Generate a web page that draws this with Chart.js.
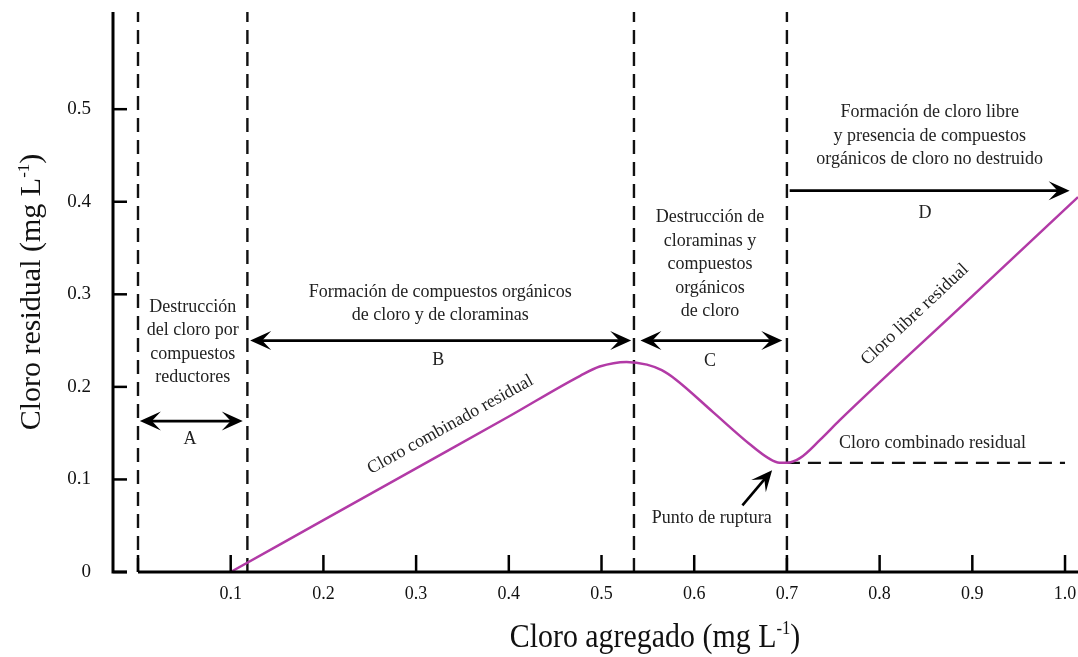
<!DOCTYPE html>
<html>
<head>
<meta charset="utf-8">
<script src="https://cdn.jsdelivr.net/npm/chart.js@4"></script>
<style>
html, body { margin: 0; padding: 0; background: #fff; }
</style>
</head>
<body>
<canvas id="breakpointChart" width="1078" height="657"></canvas>
<script>
// Curva de cloro residual frente a cloro agregado (mg/L)
var curveX = [0.1, 0.2, 0.3, 0.4, 0.477, 0.498, 0.527, 0.549, 0.565, 0.58, 0.62, 0.66, 0.68, 0.692, 0.70, 0.714, 0.736, 0.757, 0.9, 1.014];
var curveY = [0, 0.056, 0.112, 0.168, 0.212, 0.222, 0.227, 0.224, 0.218, 0.208, 0.173, 0.138, 0.123, 0.118, 0.118, 0.123, 0.143, 0.164, 0.298, 0.405];

// Cloro combinado residual despues del punto de ruptura
var combinedX = [0.70, 1.0];
var combinedY = [0.118, 0.118];

// Limites de las zonas A, B, C, D
var phaseLimits = [0, 0.118, 0.535, 0.70];

var xTicks = [0.1, 0.2, 0.3, 0.4, 0.5, 0.6, 0.7, 0.8, 0.9, 1.0];
var yTicks = [0, 0.1, 0.2, 0.3, 0.4, 0.5];
var xMax = 1.014;
var yMax = 0.605;

// Flechas (en unidades de los ejes)
var arrows = [
    { x1: 0.002, y1: 0.163, x2: 0.113, y2: 0.163, both: true },
    { x1: 0.121, y1: 0.25, x2: 0.532, y2: 0.25, both: true },
    { x1: 0.542, y1: 0.25, x2: 0.695, y2: 0.25, both: true },
    { x1: 0.703, y1: 0.412, x2: 1.005, y2: 0.412, both: false },
    { x1: 0.652, y1: 0.072, x2: 0.684, y2: 0.110, both: false }
];

// Textos (centro del bloque en unidades de los ejes)
var notes = [
    { x: 0.059, y: 0.248, angle: 0, lines: ['Destrucción', 'del cloro por', 'compuestos', 'reductores'] },
    { x: 0.056, y: 0.143, angle: 0, lines: ['A'] },
    { x: 0.326, y: 0.290, angle: 0, lines: ['Formación de compuestos orgánicos', 'de cloro y de cloraminas'] },
    { x: 0.324, y: 0.229, angle: 0, lines: ['B'] },
    { x: 0.617, y: 0.332, angle: 0, lines: ['Destrucción de', 'cloraminas y', 'compuestos', 'orgánicos', 'de cloro'] },
    { x: 0.617, y: 0.228, angle: 0, lines: ['C'] },
    { x: 0.854, y: 0.471, angle: 0, lines: ['Formación de cloro libre', 'y presencia de compuestos', 'orgánicos de cloro no destruido'] },
    { x: 0.849, y: 0.388, angle: 0, lines: ['D'] },
    { x: 0.337, y: 0.159, angle: -29, lines: ['Cloro combinado residual'] },
    { x: 0.838, y: 0.278, angle: -43, lines: ['Cloro libre residual'] },
    { x: 0.857, y: 0.139, angle: 0, lines: ['Cloro combinado residual'] },
    { x: 0.619, y: 0.058, angle: 0, lines: ['Punto de ruptura'] }
];

var serif = '"Liberation Serif", "Times New Roman", serif';

function toPoints(xs, ys) {
    return xs.map(function(x, i) { return { x: x, y: ys[i] }; });
}

var datasets = [{
    data: toPoints(curveX, curveY),
    borderColor: '#B23AA6',
    borderWidth: 2.5,
    pointRadius: 0,
    cubicInterpolationMode: 'monotone',
    fill: false,
    clip: false
}, {
    data: toPoints(combinedX, combinedY),
    borderColor: '#111',
    borderWidth: 2.2,
    borderDash: [13, 8],
    pointRadius: 0,
    fill: false,
    clip: false
}];

phaseLimits.forEach(function(v) {
    datasets.push({
        data: [{ x: v, y: 0 }, { x: v, y: yMax }],
        borderColor: '#111',
        borderWidth: 2.4,
        borderDash: [14, 8],
        pointRadius: 0,
        fill: false,
        clip: false
    });
});

function arrowHead(ctx, x, y, ang) {
    ctx.save();
    ctx.translate(x, y);
    ctx.rotate(ang);
    ctx.beginPath();
    ctx.moveTo(0, 0);
    ctx.lineTo(-21, -9.5);
    ctx.lineTo(-12, 0);
    ctx.lineTo(-21, 9.5);
    ctx.closePath();
    ctx.fill();
    ctx.restore();
}

// Ejes, flechas y textos
var decorPlugin = {
    id: 'decor',
    afterDraw: function(chart) {
        var ctx = chart.ctx;
        var xs = chart.scales.x, ys = chart.scales.y;
        var area = chart.chartArea;
        var y0 = ys.getPixelForValue(0);
        var yAxisX = area.left - 25;

        ctx.save();
        ctx.strokeStyle = '#000';
        ctx.fillStyle = '#000';
        ctx.lineWidth = 3;

        // eje y con su pie
        ctx.beginPath();
        ctx.moveTo(yAxisX, area.top);
        ctx.lineTo(yAxisX, y0);
        ctx.lineTo(yAxisX + 14, y0);
        ctx.stroke();
        ctx.lineWidth = 2.5;
        yTicks.forEach(function(v) {
            var py = ys.getPixelForValue(v);
            ctx.beginPath();
            ctx.moveTo(yAxisX, py);
            ctx.lineTo(yAxisX + 14, py);
            ctx.stroke();
        });

        // eje x
        ctx.lineWidth = 3;
        ctx.beginPath();
        ctx.moveTo(area.left, y0);
        ctx.lineTo(area.right, y0);
        ctx.stroke();
        ctx.lineWidth = 2.5;
        [0].concat(xTicks).forEach(function(v) {
            var px = xs.getPixelForValue(v);
            ctx.beginPath();
            ctx.moveTo(px, y0);
            ctx.lineTo(px, y0 - 17);
            ctx.stroke();
        });

        // flechas
        ctx.lineWidth = 2.6;
        arrows.forEach(function(a) {
            var px1 = xs.getPixelForValue(a.x1), py1 = ys.getPixelForValue(a.y1);
            var px2 = xs.getPixelForValue(a.x2), py2 = ys.getPixelForValue(a.y2);
            var ang = Math.atan2(py2 - py1, px2 - px1);
            ctx.beginPath();
            ctx.moveTo(px1 + (a.both ? 10 * Math.cos(ang) : 0), py1 + (a.both ? 10 * Math.sin(ang) : 0));
            ctx.lineTo(px2 - 10 * Math.cos(ang), py2 - 10 * Math.sin(ang));
            ctx.stroke();
            arrowHead(ctx, px2, py2, ang);
            if (a.both) arrowHead(ctx, px1, py1, ang + Math.PI);
        });

        // textos
        ctx.fillStyle = '#222';
        ctx.font = '18px ' + serif;
        ctx.textAlign = 'center';
        ctx.textBaseline = 'middle';
        notes.forEach(function(n) {
            var lh = 23.5;
            ctx.save();
            ctx.translate(xs.getPixelForValue(n.x), ys.getPixelForValue(n.y));
            ctx.rotate(n.angle * Math.PI / 180);
            n.lines.forEach(function(t, i) {
                ctx.fillText(t, 0, (i - (n.lines.length - 1) / 2) * lh);
            });
            ctx.restore();
        });

        // titulos de los ejes con superindice
        function titleWithSup(base, sup, cx, cy, size, sx, rot) {
            ctx.save();
            ctx.translate(cx, cy);
            ctx.rotate(rot);
            ctx.scale(sx, 1);
            ctx.fillStyle = '#111';
            ctx.textAlign = 'left';
            ctx.textBaseline = 'alphabetic';
            var big = size + 'px ' + serif, small = Math.round(size * 0.55) + 'px ' + serif;
            ctx.font = big;
            var w1 = ctx.measureText(base).width;
            var w3 = ctx.measureText(')').width;
            ctx.font = small;
            var w2 = ctx.measureText(sup).width;
            var x = -(w1 + w2 + w3) / 2;
            var baseY = size * 0.33;
            ctx.font = big;
            ctx.fillText(base, x, baseY);
            ctx.font = small;
            ctx.fillText(sup, x + w1, baseY - size * 0.38);
            ctx.font = big;
            ctx.fillText(')', x + w1 + w2, baseY);
            ctx.restore();
        }
        titleWithSup('Cloro agregado (mg L', '-1', 655, 636, 34, 0.88, 0);
        titleWithSup('Cloro residual (mg L', '-1', 30, 292, 30, 1, -Math.PI / 2);

        ctx.restore();
    }
};

var ctx = document.getElementById('breakpointChart').getContext('2d');
var breakpointChart = new Chart(ctx, {
    type: 'line',
    data: { datasets: datasets },
    options: {
        responsive: false,
        animation: false,
        events: [],
        layout: { autoPadding: false, padding: { top: 12, right: 0, bottom: 0, left: 0 } },
        plugins: {
            legend: { display: false },
            tooltip: { enabled: false }
        },
        scales: {
            x: {
                type: 'linear',
                min: 0,
                max: xMax,
                border: { display: false },
                grid: { display: false, drawTicks: true, tickLength: 11 },
                ticks: {
                    autoSkip: false,
                    maxRotation: 0,
                    padding: 0,
                    color: '#111',
                    font: { family: serif, size: 18 },
                    callback: function(v) { return v.toFixed(1); }
                },
                afterBuildTicks: function(s) {
                    s.ticks = xTicks.map(function(v) { return { value: v }; });
                },
                afterFit: function(s) { s.height = 85; }
            },
            y: {
                type: 'linear',
                min: 0,
                max: yMax,
                border: { display: false },
                grid: { display: false, drawTicks: true, tickLength: 47 },
                ticks: {
                    autoSkip: false,
                    padding: 0,
                    color: '#111',
                    font: { family: serif, size: 19 },
                    callback: function(v) { return v === 0 ? '0' : v.toFixed(1); }
                },
                afterBuildTicks: function(s) {
                    s.ticks = yTicks.map(function(v) { return { value: v }; });
                },
                afterFit: function(s) { s.width = 138; }
            }
        }
    },
    plugins: [decorPlugin]
});
</script>
</body>
</html>
